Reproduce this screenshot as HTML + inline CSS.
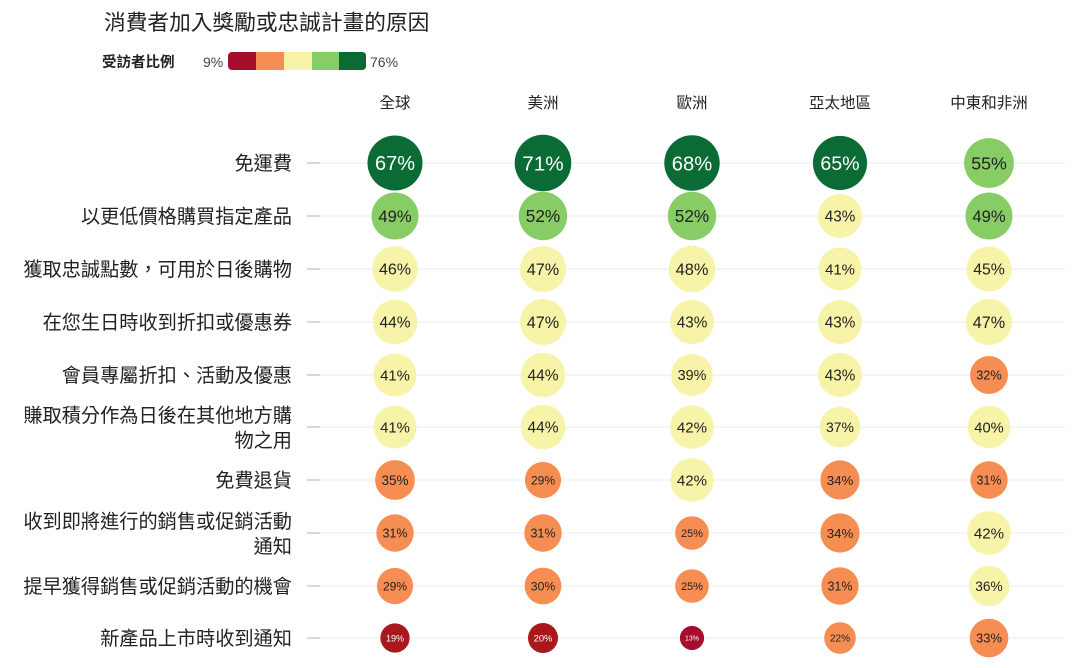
<!DOCTYPE html>
<html><head><meta charset="utf-8"><style>
html,body{margin:0;padding:0;background:#fff}
svg{display:block;font-family:"Liberation Sans","Noto Sans CJK TC",sans-serif}
</style></head><body>
<svg id="s" width="1072" height="668" viewBox="0 0 1072 668" xmlns="http://www.w3.org/2000/svg">
<text x="104" y="30" font-size="21.7" fill="#222">消費者加入獎勵或忠誠計畫的原因</text>
<text x="102" y="67" font-size="14.5" font-weight="bold" fill="#222">受訪者比例</text>
<text x="203" y="67" font-size="14" fill="#444">9%</text>
<rect x="228" y="52" width="138" height="18" rx="4" fill="#a50f2b"/>
<rect x="256" y="52" width="28" height="18" fill="#f68d52"/>
<rect x="284" y="52" width="28" height="18" fill="#f7f3a8"/>
<rect x="312" y="52" width="27" height="18" fill="#88cc66"/>
<rect x="339" y="52" width="27" height="18" rx="4" fill="#0b6b35"/>
<rect x="339" y="52" width="10" height="18" fill="#0b6b35"/>
<text x="370" y="67" font-size="14" fill="#444">76%</text>
<g id="g"></g>
</svg>
<script>
var cols=[395,543,692,840,989];
var heads=["全球","美洲","歐洲","亞太地區","中東和非洲"];
var rows=[163,216,269,322,375,427,480,533,586,638];
var labels=[["免運費"],["以更低價格購買指定產品"],["獲取忠誠點數，可用於日後購物"],["在您生日時收到折扣或優惠券"],["會員專屬折扣、活動及優惠"],["賺取積分作為日後在其他地方購","物之用"],["免費退貨"],["收到即將進行的銷售或促銷活動","通知"],["提早獲得銷售或促銷活動的機會"],["新產品上市時收到通知"]];
var d=[[67,49,46,44,41,41,35,31,29,19],[71,52,47,47,44,44,29,31,30,20],[68,52,48,43,39,42,42,25,25,13],[65,43,41,43,43,37,34,34,31,22],[55,49,45,47,32,40,31,42,36,33]];
var h='';
for(var c=0;c<5;c++)h+='<text x="'+cols[c]+'" y="108" font-size="15.5" text-anchor="middle" fill="#222">'+heads[c]+'</text>';
for(var r=0;r<10;r++){
 var y=rows[r];
 h+='<line x1="318" x2="1065" y1="'+y+'" y2="'+y+'" stroke="#efefef" stroke-width="1.2"/>';
 h+='<line x1="307" x2="320" y1="'+y+'" y2="'+y+'" stroke="#ccc" stroke-width="1.5"/>';
 var L=labels[r];
 if(L.length==1)h+='<text x="292" y="'+(y+7)+'" font-size="19.2" text-anchor="end" fill="#222">'+L[0]+'</text>';
 else{h+='<text x="292" y="'+(y-5)+'" font-size="19.2" text-anchor="end" fill="#222">'+L[0]+'</text>';
 h+='<text x="292" y="'+(y+20)+'" font-size="19.2" text-anchor="end" fill="#222">'+L[1]+'</text>';}
 for(var c=0;c<5;c++){
  var v=d[c][r];var rad=3.36*Math.sqrt(v);var f=Math.max(7,0.85*rad-3.4);
  var col,tc='#222';
  if(v>=62){col='#0b6b35';tc='#fff';}else if(v>=49){col='#88cc66';}else if(v>=36){col='#f7f3a8';}else if(v>=22){col='#f68d52';}else{col='#a50f2b';tc='#fff';}
  if(v==19||v==20)col='#a8181c';
  h+='<circle cx="'+cols[c]+'" cy="'+y+'" r="'+rad.toFixed(1)+'" fill="'+col+'"/>';
  h+='<text x="'+cols[c]+'" y="'+(y+f*0.36).toFixed(1)+'" font-size="'+f.toFixed(1)+'" text-anchor="middle" fill="'+tc+'">'+v+'%</text>';
 }
}
document.getElementById('g').innerHTML=h;
</script>
</body></html>
